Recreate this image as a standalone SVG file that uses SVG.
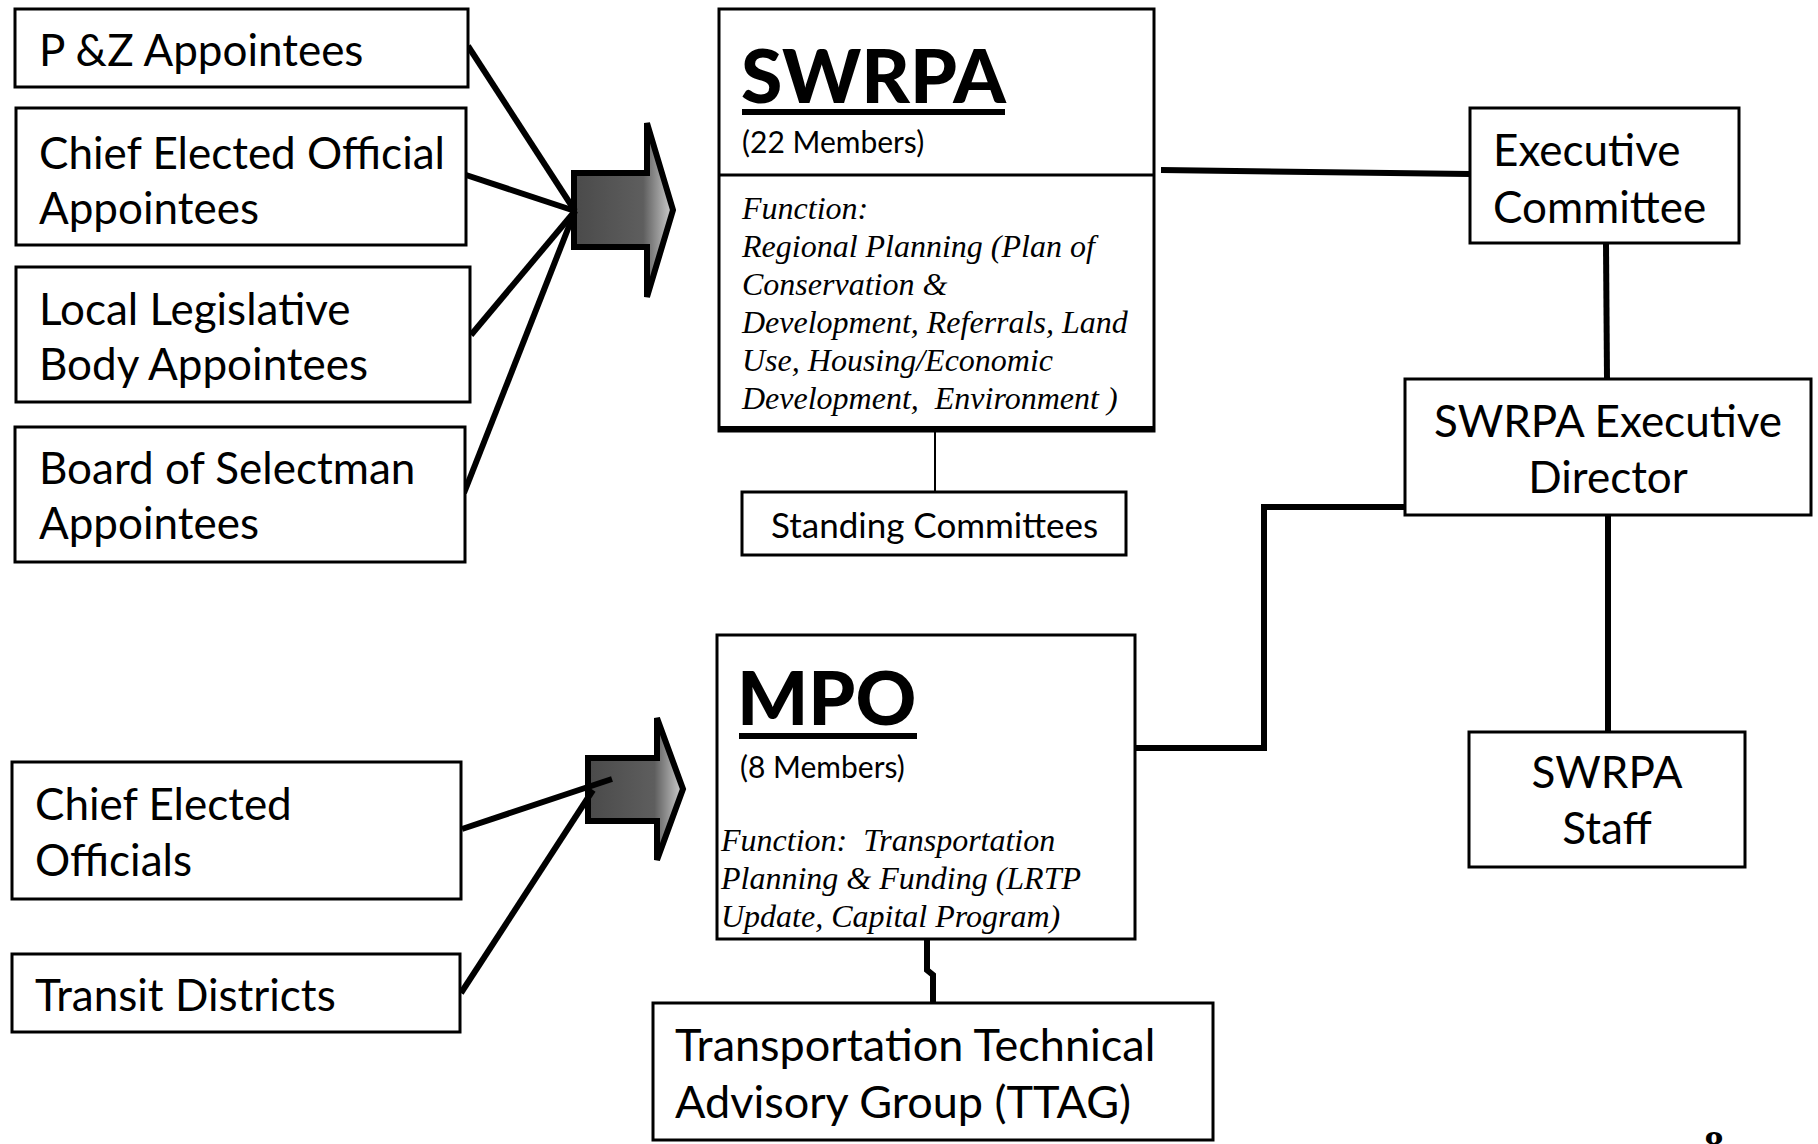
<svg xmlns="http://www.w3.org/2000/svg" width="1818" height="1144" viewBox="0 0 1818 1144">
<defs>
<style>
.box{fill:#fff;stroke:#000;stroke-width:3}
.lbl{font-family:Lato,"Open Sans",sans-serif;font-size:44px;fill:#000}
.sm{font-size:35px}
.big{font-size:45px}
.mem{font-family:Lato,"Open Sans",sans-serif;font-size:30px;fill:#000}
.ttl{font-family:Lato,"Open Sans",sans-serif;font-size:75px;font-weight:900;fill:#000}
.fn{font-family:"Liberation Serif",serif;font-style:italic;font-size:32px;fill:#000}
.conn{stroke:#000;stroke-width:6;fill:none;stroke-linejoin:miter}
.thin{stroke:#000;stroke-width:2;fill:none}
.arrow{fill:url(#ag);stroke:#000;stroke-width:6;stroke-linejoin:miter}
.c{text-anchor:middle}
</style>
<linearGradient id="ag" x1="0" y1="0" x2="1" y2="0">
<stop offset="0" stop-color="#4a4a4a"/>
<stop offset="0.7" stop-color="#5e5e5e"/>
<stop offset="1" stop-color="#d0d0d0"/>
</linearGradient>
</defs>
<rect x="0" y="0" width="1818" height="1144" fill="#fff"/>

<g id="connectors">
<polygon class="arrow" points="574,173 647,173 647,123 673,210 647,297 647,247 574,247"/>
<polygon class="arrow" points="588,758 657,758 657,718 683,789 657,860 657,821 588,821"/>
<line class="conn" x1="468" y1="46" x2="575" y2="211"/>
<line class="conn" x1="466" y1="175" x2="575" y2="211"/>
<line class="conn" x1="471" y1="335" x2="575" y2="211"/>
<line class="conn" x1="464" y1="493" x2="575" y2="211"/>
<line class="conn" x1="462" y1="829" x2="612" y2="779"/>
<line class="conn" x1="461" y1="993" x2="593" y2="790"/>
<line class="conn" x1="1161" y1="170" x2="1470" y2="174"/>
<line class="conn" x1="1606" y1="243" x2="1607" y2="379"/>
<line class="conn" x1="1608" y1="515" x2="1608" y2="732"/>
<line class="thin" x1="935" y1="432" x2="935" y2="492"/>
<polyline class="conn" points="1119,748 1264,748 1264,507 1405,507"/>
<polyline class="conn" points="927,940 927,970 933,975 933,1003"/>
</g>

<g id="pz">
<rect class="box" x="15" y="9" width="453" height="78"/>
<text class="lbl" x="39" y="66">P &amp;Z Appointees</text>
</g>
<g id="ceo-appointees">
<rect class="box" x="16" y="108" width="450" height="137"/>
<text class="lbl" x="39" y="169">Chief Elected Official</text>
<text class="lbl" x="39" y="224">Appointees</text>
</g>
<g id="llb-appointees">
<rect class="box" x="16" y="267" width="454" height="135"/>
<text class="lbl" x="39" y="325">Local Legislative</text>
<text class="lbl" x="39" y="380">Body Appointees</text>
</g>
<g id="bos-appointees">
<rect class="box" x="15" y="427" width="450" height="135"/>
<text class="lbl" x="39" y="484">Board of Selectman</text>
<text class="lbl" x="39" y="539">Appointees</text>
</g>

<g id="swrpa">
<rect class="box" x="719" y="9" width="435" height="422"/>
<line x1="719" y1="175" x2="1154" y2="175" stroke="#000" stroke-width="3"/>
<line x1="719" y1="429" x2="1154" y2="429" stroke="#000" stroke-width="6"/>
<text class="ttl" x="741" y="103">SWRPA</text>
<rect x="742" y="109" width="263" height="6" fill="#000"/>
<text class="mem" x="742" y="153">(22 Members)</text>
<text class="fn" x="742" y="219">Function:</text>
<text class="fn" x="742" y="257">Regional Planning (Plan of</text>
<text class="fn" x="742" y="295">Conservation &amp;</text>
<text class="fn" x="742" y="333">Development, Referrals, Land</text>
<text class="fn" x="742" y="371">Use, Housing/Economic</text>
<text class="fn" x="742" y="409" xml:space="preserve">Development,  Environment )</text>
</g>

<g id="standing-committees">
<rect class="box" x="742" y="492" width="384" height="63"/>
<text class="lbl sm" x="771" y="538">Standing Committees</text>
</g>

<g id="executive-committee">
<rect class="box" x="1470" y="108" width="269" height="135"/>
<text class="lbl" x="1493" y="166">Executive</text>
<text class="lbl" x="1493" y="223">Committee</text>
</g>

<g id="executive-director">
<rect class="box" x="1405" y="379" width="406" height="136"/>
<text class="lbl c" x="1608" y="437">SWRPA Executive</text>
<text class="lbl c" x="1608" y="493">Director</text>
</g>

<g id="swrpa-staff">
<rect class="box" x="1469" y="732" width="276" height="135"/>
<text class="lbl c" x="1607" y="788">SWRPA</text>
<text class="lbl c" x="1607" y="844">Staff</text>
</g>

<g id="mpo">
<rect class="box" x="717" y="635" width="418" height="304"/>
<text class="ttl" x="737" y="725">MPO</text>
<rect x="739" y="733" width="178" height="6" fill="#000"/>
<text class="mem" x="740" y="778">(8 Members)</text>
<text class="fn" x="721" y="851" xml:space="preserve">Function:  Transportation</text>
<text class="fn" x="721" y="889">Planning &amp; Funding (LRTP</text>
<text class="fn" x="721" y="927">Update, Capital Program)</text>
</g>

<g id="ceo">
<rect class="box" x="12" y="762" width="449" height="137"/>
<text class="lbl" x="35" y="820">Chief Elected</text>
<text class="lbl" x="35" y="876">Officials</text>
</g>
<g id="transit">
<rect class="box" x="12" y="954" width="448" height="78"/>
<text class="lbl" x="35" y="1011">Transit Districts</text>
</g>

<g id="ttag">
<rect class="box" x="653" y="1003" width="560" height="137"/>
<text class="lbl big" x="675" y="1061">Transportation Technical</text>
<text class="lbl big" x="675" y="1118">Advisory Group (TTAG)</text>
</g>

<text x="1714" y="1158" font-family="Liberation Serif,serif" font-weight="700" font-size="40" text-anchor="middle">8</text>
</svg>
